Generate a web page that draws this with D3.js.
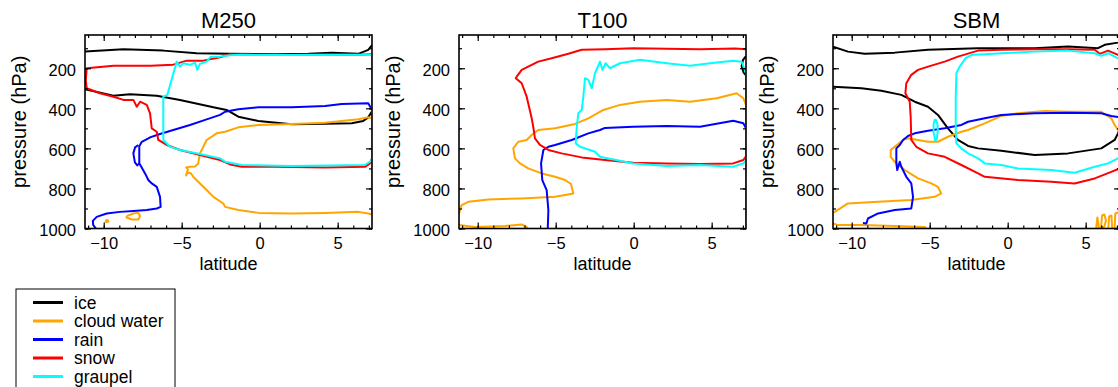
<!DOCTYPE html>
<html>
<head>
<meta charset="utf-8">
<script src="https://cdn.jsdelivr.net/npm/d3@7"></script>
<style>
  body { margin: 0; background: #fff; }
  svg text { font-family: "Liberation Sans", Arial, Helvetica, sans-serif; fill: #000; }
</style>
</head>
<body>
<svg id="chart" width="1118" height="387"></svg>
<script>
// panel titles and legend entries
var titles = ["M250", "T100", "SBM"];
var species = ["ice", "cloud water", "rain", "snow", "graupel"];
var colors = ["#000000", "#ffa500", "#0000ff", "#ff0000", "#00ffff"];
var yTicks = [200, 400, 600, 800, 1000];
var xTicks = [-10, -5, 0, 5];

// contour segments, [latitude, pressure]
var m250Ice = [
  [[-11.2,117],[-8.74,105],[-6.18,112],[-4.04,125],[-1.9,128],[0.98,130],[3.12,128],[4.62,122],[6.32,128],[6.96,108],[7.2,85]],
  [[-11.2,305],[-9.38,337],[-8.31,330],[-6.6,337],[-5.11,358],[-2.97,395],[-2.12,408],[-1.37,442],[-0.09,463],[2.05,480],[4.19,477],[5.9,475],[6.64,463],[6.96,445],[7.18,417]]
];
var m250Cloud = [
  [[7.2,930],[6.96,925],[6.32,917],[4.19,922],[2.05,925],[-0.09,922],[-1.37,908],[-2.22,892],[-2.33,875],[-2.97,842],[-3.4,808],[-3.83,775],[-4.26,742],[-4.4,725],[-4.6,720],[-4.72,735],[-4.6,705],[-4.72,695],[-4.47,692],[-4.15,690],[-3.94,675],[-3.83,625],[-3.4,558],[-2.76,525],[-2.22,517],[-1.37,495],[-0.09,483],[2.05,478],[4.19,472],[6.32,455],[6.96,445],[7.2,450],[7.2,930]],
  [[-8.53,938],[-8.1,925],[-7.78,922],[-7.67,938],[-7.78,955],[-8.21,955],[-8.53,945],[-8.53,938]],
  [[-9.9,960],[-9.75,958],[-9.7,965],[-9.85,968],[-9.9,960]]
];
var m250Rain = [
  [[7.2,408],[6.96,375],[5.26,378],[4.19,388],[2.05,395],[-0.09,395],[-1.37,405],[-2.22,417],[-2.54,433],[-3.4,455],[-4.47,483],[-5.54,508],[-6.39,528],[-7.03,545],[-7.14,550],[-7.56,567],[-7.72,590],[-7.72,625],[-7.72,675],[-7.6,690],[-7.35,725],[-7.14,758],[-6.92,775],[-6.6,792],[-6.39,842],[-6.35,892],[-6.6,900],[-7.24,908],[-8.1,913],[-8.96,917],[-9.81,925],[-10.45,942],[-10.7,962],[-10.67,983],[-10.5,1000]],
  [[-7.78,583],[-7.99,595],[-8.1,625],[-8.0,670],[-7.85,685],[-7.72,675]]
];
var m250Snow = [
  [[7.2,650],[7.07,675],[6.75,692],[4.19,695],[0.98,692],[-1.15,692],[-1.9,680],[-2.54,658],[-3.83,633],[-5.11,608],[-5.96,583],[-6.5,558],[-6.6,517],[-6.92,500],[-7.03,425],[-7.24,383],[-7.67,367],[-7.88,392],[-8.1,358],[-8.74,358],[-9.38,342],[-10.24,325],[-11.09,300],[-11.15,260],[-11.09,200],[-9.38,188],[-7.0,188],[-5.54,182],[-4.68,162],[-3.62,162],[-2.54,145],[-1.9,130],[-0.09,131],[2.05,133],[4.19,131],[6.32,132],[7.2,130]]
];
var m250Graupel = [
  [[7.2,660],[6.75,683],[2.05,688],[-1.15,683],[-2.22,667],[-2.54,650],[-3.83,628],[-5.11,608],[-5.75,592],[-6.18,558],[-6.18,342],[-5.92,333],[-5.32,167],[-5.11,192],[-4.9,175],[-4.47,183],[-4.15,172],[-4.0,208],[-3.83,178],[-3.4,167],[-3.14,142],[-2.54,142],[-1.9,135],[-1.15,133],[2.0,134],[5.0,133],[7.2,133],[7.2,660]]
];

var t100Ice = [
  [[7.2,140],[7.0,160],[6.92,190],[7.05,222],[7.2,235]]
];
var t100Cloud = [
  [[-11.2,925],[-11.03,883],[-10.6,867],[-9.32,855],[-7.18,850],[-5.04,842],[-4.4,833],[-3.87,825],[-4.02,778],[-4.4,758],[-5.04,742],[-5.9,725],[-6.76,700],[-7.29,675],[-7.61,650],[-7.72,600],[-7.4,567],[-6.86,558],[-6.54,533],[-6.12,508],[-5.04,500],[-3.76,478],[-2.91,450],[-2.0,410],[-0.88,383],[0.4,367],[2.12,358],[3.61,367],[5.32,350],[6.6,325],[7.03,350],[7.2,383],[7.2,1000]],
  [[-11.2,983],[-10.17,992],[-8.25,988],[-7.18,980],[-6.86,992],[-6.8,1000]]
];
var t100Rain = [
  [[7.2,500],[7.03,475],[6.38,462],[4.25,492],[2.12,488],[-0.03,492],[-1.84,498],[-2.16,508],[-2.91,525],[-3.97,558],[-5.04,583],[-5.47,592],[-5.79,608],[-5.94,675],[-5.86,758],[-5.58,808],[-5.47,908],[-5.51,1000]]
];
var t100Snow = [
  [[7.2,640],[7.03,658],[6.38,675],[4.25,678],[2.12,675],[-0.03,672],[-1.84,658],[-3.33,645],[-4.62,625],[-5.47,608],[-6.01,583],[-6.33,550],[-6.44,492],[-6.54,450],[-6.86,342],[-7.18,275],[-7.56,250],[-7.5,242],[-7.18,208],[-6.12,167],[-5.26,150],[-4.19,128],[-3.33,108],[-1.84,105],[-0.03,100],[4.25,105],[6.5,102],[7.2,105]]
];
var t100Graupel = [
  [[7.2,660],[7.03,675],[6.38,692],[4.25,683],[2.12,688],[-0.03,675],[-2.16,642],[-2.48,617],[-3.44,592],[-3.72,575],[-3.65,492],[-3.55,425],[-3.33,408],[-3.23,342],[-3.12,250],[-2.91,258],[-2.69,300],[-2.48,225],[-2.16,167],[-2.0,208],[-1.8,175],[-1.52,200],[-0.88,175],[0.4,158],[2.12,175],[3.61,188],[4.89,175],[6.38,162],[6.92,167],[7.2,225],[7.2,660]]
];

var sbmIce = [
  [[-11.2,92],[-10.24,117],[-9.17,128],[-7.24,122],[-5.11,108],[-1.9,100],[1.73,100],[3.87,92],[5.79,100],[6.22,83],[7.07,72],[7.2,70]],
  [[-11.2,292],[-9.38,300],[-8.1,312],[-6.82,333],[-5.96,367],[-5.11,392],[-4.47,433],[-3.83,500],[-3.19,558],[-2.54,588],[-1.9,600],[-0.41,612],[1.73,633],[3.87,625],[6.0,600],[6.86,558],[7.07,525],[7.2,500]]
];
var sbmCloud = [
  [[7.2,510],[7.07,508],[6.86,483],[6.64,450],[6.0,417],[3.87,417],[2.37,413],[0.66,425],[-0.41,438],[-1.47,475],[-2.54,508],[-2.97,517],[-3.83,542],[-4.47,567],[-5.11,567],[-5.75,558],[-6.39,550],[-6.71,558],[-7.24,592],[-7.5,608],[-7.5,642],[-7.24,667],[-6.6,708],[-5.75,750],[-4.9,775],[-4.47,792],[-4.26,825],[-4.68,842],[-6.18,858],[-8.31,867],[-10.24,875],[-11.09,917],[-11.2,920]],
  [[-11.2,975],[-10.88,983],[-9.38,983],[-7.24,988],[-5.32,992],[-5.2,1000]],
  [[5.67,1000],[5.75,945],[5.85,1000]],
  [[5.98,1000],[6.05,935],[6.2,930],[6.3,960],[6.2,990],[6.05,995]],
  [[6.45,1000],[6.5,940],[6.65,935],[6.7,1000]],
  [[6.85,1000],[6.9,925],[7.07,920],[7.2,925]]
];
var sbmRain = [
  [[7.2,445],[6.64,438],[6.0,425],[3.87,422],[1.73,425],[-0.41,433],[-1.47,450],[-2.54,467],[-2.97,483],[-4.04,500],[-5.11,512],[-5.96,525],[-6.39,538],[-6.71,558],[-6.92,583],[-7.14,600],[-7.14,675],[-7.08,708],[-6.92,667],[-6.82,692],[-6.5,742],[-6.18,775],[-6.07,842],[-6.18,900],[-7.24,908],[-8.31,925],[-8.96,950],[-9.06,975],[-9.28,972]]
];
var sbmSnow = [
  [[7.2,700],[6.64,717],[5.58,750],[4.29,775],[2.79,767],[0.66,758],[-1.47,742],[-1.9,725],[-2.97,683],[-4.04,642],[-5.11,625],[-5.86,592],[-6.18,558],[-6.22,442],[-6.28,367],[-6.56,325],[-6.5,275],[-6.18,233],[-5.75,208],[-5.11,192],[-4.04,167],[-3.19,142],[-1.9,112],[-0.41,108],[1.73,105],[3.87,105],[5.58,108],[5.9,128],[6.43,112],[7.07,133],[7.2,135]]
];
var sbmGraupel = [
  [[7.2,645],[7.07,650],[6.43,675],[5.58,692],[4.29,722],[2.79,708],[0.66,700],[-0.41,683],[-1.47,675],[-1.9,650],[-2.54,625],[-2.97,600],[-3.29,575],[-3.33,508],[-3.33,342],[-3.29,225],[-3.08,192],[-2.7,150],[-2.3,133],[-1.47,130],[-0.41,125],[1.73,117],[3.87,112],[5.58,125],[6.0,138],[6.43,125],[7.07,150],[7.2,155]],
  [[-4.62,455],[-4.5,480],[-4.48,510],[-4.55,555],[-4.65,560],[-4.75,520],[-4.75,480],[-4.68,458],[-4.62,455]]
];

// one list of species per panel, same order as the legend
var panelData = [
  [m250Ice, m250Cloud, m250Rain, m250Snow, m250Graupel],
  [t100Ice, t100Cloud, t100Rain, t100Snow, t100Graupel],
  [sbmIce, sbmCloud, sbmRain, sbmSnow, sbmGraupel]
];

var svg = d3.select("#chart");

var width = 287, height = 193.5;
var panelLeft = [85, 459, 833];
var panelTop = 35;

var xScale = d3.scaleLinear().domain([-11.2, 7.2]).range([0, width]);
var yScale = d3.scaleLinear().domain([1000, 34]).range([height, 0]);

var line = d3.line()
  .x(d => xScale(d[0]))
  .y(d => yScale(d[1]));

var fmt = d => (d < 0 ? "\u2212" + Math.abs(d) : String(d));

panelData.forEach(function(sets, i) {
  var g = svg.append("g")
    .attr("transform", `translate(${panelLeft[i]}, ${panelTop})`);

  g.append("clipPath").attr("id", "clip" + i)
    .append("rect").attr("width", width).attr("height", height);

  var plot = g.append("g").attr("clip-path", `url(#clip${i})`);

  sets.forEach(function(segs, k) {
    plot.selectAll(null)
      .data(segs)
      .enter()
      .append("path")
      .attr("d", line)
      .attr("fill", "none")
      .attr("stroke", colors[k])
      .attr("stroke-width", 2)
      .attr("stroke-linejoin", "round");
  });

  // minor ticks (inward) on all four sides
  var minorX = d3.range(-11, 8, 1);
  var minorY = d3.range(100, 1001, 100);
  g.append("g").attr("transform", `translate(0, ${height})`)
    .call(d3.axisBottom(xScale).tickValues(minorX).tickSize(-3).tickFormat(""));
  g.append("g")
    .call(d3.axisTop(xScale).tickValues(minorX).tickSize(-3).tickFormat(""));
  g.append("g")
    .call(d3.axisLeft(yScale).tickValues(minorY).tickSize(-3).tickFormat(""));
  g.append("g").attr("transform", `translate(${width}, 0)`)
    .call(d3.axisRight(yScale).tickValues(minorY).tickSize(-3).tickFormat(""));

  // major ticks with labels
  g.append("g").attr("class", "xaxis").attr("transform", `translate(0, ${height})`)
    .call(d3.axisBottom(xScale).tickValues(xTicks).tickSizeInner(-6).tickSizeOuter(0).tickPadding(9).tickFormat(fmt));
  g.append("g")
    .call(d3.axisTop(xScale).tickValues(xTicks).tickSizeInner(-6).tickSizeOuter(0).tickFormat(""));
  g.append("g").attr("class", "yaxis")
    .call(d3.axisLeft(yScale).tickValues(yTicks).tickSizeInner(-6).tickSizeOuter(0).tickPadding(9).tickFormat(fmt));
  g.append("g").attr("transform", `translate(${width}, 0)`)
    .call(d3.axisRight(yScale).tickValues(yTicks).tickSizeInner(-6).tickSizeOuter(0).tickFormat(""));

  g.selectAll(".domain").remove();
  g.selectAll(".tick line").attr("stroke", "#000").attr("stroke-width", 1.2);
  g.selectAll(".xaxis text, .yaxis text")
    .style("font-family", "Liberation Sans, Arial, sans-serif")
    .style("font-size", "16.5px")
    .attr("fill", "#000");
  g.selectAll(".yaxis text").attr("dy", "0.42em");

  g.append("rect")
    .attr("width", width).attr("height", height)
    .attr("fill", "none").attr("stroke", "#000").attr("stroke-width", 1.6);

  g.append("text")
    .attr("x", width / 2).attr("y", -7)
    .attr("text-anchor", "middle")
    .style("font-size", "22px")
    .text(titles[i]);

  g.append("text")
    .attr("x", width / 2).attr("y", height + 41)
    .attr("text-anchor", "middle")
    .style("font-size", "18px")
    .text("latitude");

  g.append("text")
    .attr("transform", `translate(-59, ${height / 2 - 10}) rotate(-90)`)
    .attr("text-anchor", "middle")
    .style("font-size", "20px")
    .text("pressure (hPa)");
});

// legend
var legend = svg.append("g").attr("transform", "translate(16, 289)");
legend.append("rect")
  .attr("width", 159).attr("height", 110)
  .attr("fill", "#fff").attr("stroke", "#000").attr("stroke-width", 1);

var items = legend.selectAll(".item")
  .data(species)
  .enter()
  .append("g")
  .attr("transform", (d, i) => `translate(0, ${13.5 + i * 18.5})`);

items.append("line")
  .attr("x1", 17).attr("x2", 47)
  .attr("stroke", (d, i) => colors[i])
  .attr("stroke-width", 3);

items.append("text")
  .attr("x", 58).attr("y", 6)
  .style("font-size", "17.5px")
  .text(d => d);
</script>
</body>
</html>
